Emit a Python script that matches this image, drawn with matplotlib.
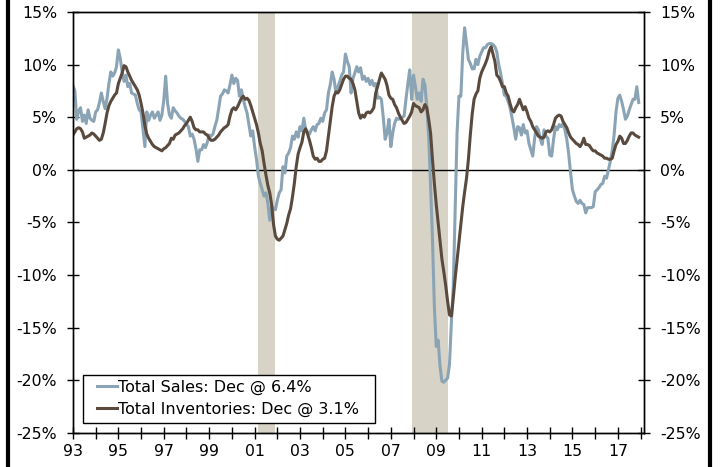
import numpy as np
import pandas as pd
import matplotlib
matplotlib.use("Agg")
import matplotlib.pyplot as plt
from matplotlib.ticker import MultipleLocator, FuncFormatter
from matplotlib.lines import Line2D
from matplotlib.patches import Rectangle

# Year-over-year % change, monthly Jan 1993 - Dec 2017 (one row per year)
total_sales = [
    8.0, 7.5, 4.8, 5.6, 5.9, 4.6, 5.2, 4.4, 5.7, 4.9, 4.7, 4.6,
    5.5, 5.7, 6.4, 7.3, 6.5, 5.8, 6.8, 8.2, 9.3, 8.9, 9.2, 9.8,
    11.4, 10.6, 9.3, 8.4, 9.0, 7.9, 8.2, 7.3, 7.2, 7.1, 6.3, 5.7,
    5.5, 3.8, 2.2, 5.5, 4.7, 5.2, 5.5, 4.9, 5.2, 5.5, 4.7, 5.2,
    6.6, 8.9, 6.3, 5.2, 4.9, 5.9, 5.6, 5.4, 5.1, 4.9, 4.8, 4.6,
    4.3, 4.1, 3.2, 3.4, 2.9, 2.0, 0.8, 1.9, 1.9, 2.4, 2.1, 2.6,
    3.3, 3.2, 3.4, 4.1, 4.7, 5.8, 7.0, 7.2, 7.6, 7.5, 7.3, 8.1,
    9.0, 8.2, 8.7, 8.5, 7.0, 7.6, 6.7, 6.0, 5.4, 4.3, 3.2, 3.7,
    2.2, 1.0, -0.6, -1.3, -1.9, -2.5, -2.2, -3.2, -4.8, -3.5, -3.7, -3.8,
    -2.9, -2.2, -1.9, 0.3, -0.3, 1.3, 1.6, 2.1, 3.2, 2.9, 3.6, 3.1,
    4.1, 3.7, 4.9, 3.8, 3.6, 3.4, 3.8, 4.1, 3.7, 4.3, 4.4, 4.9,
    4.6, 5.4, 5.7, 7.3, 8.1, 9.3, 8.6, 7.3, 7.9, 8.4, 9.0, 9.3,
    11.0, 10.3, 9.8, 7.3, 8.7, 9.2, 9.8, 9.3, 9.7, 8.6, 8.9, 8.4,
    8.7, 8.1, 8.5, 8.0, 8.2, 6.8, 6.9, 6.7, 5.0, 2.9, 3.5, 4.8,
    2.2, 3.5, 4.4, 4.9, 4.8, 4.9, 5.0, 5.1, 6.7, 8.2, 9.5, 6.7,
    9.0, 7.9, 6.7, 7.3, 6.5, 8.6, 8.1, 6.0, 3.2, -1.5, -6.5, -13.0,
    -16.8, -16.2, -18.7, -20.1, -20.2, -20.0, -19.8, -18.5, -14.5, -11.1, -4.0, 3.5,
    7.0, 7.0, 11.1, 13.5, 12.0, 10.5, 10.1, 9.6, 9.6, 10.5, 10.0, 10.8,
    11.2, 11.6, 11.6, 11.9, 12.0, 12.0, 11.9, 11.7, 11.2, 10.0, 9.2, 8.2,
    7.1, 7.0, 6.5, 5.9, 5.0, 4.0, 2.9, 4.1, 4.0, 3.3, 4.3, 3.5,
    3.7, 2.5, 1.9, 1.3, 3.0, 4.1, 3.8, 2.9, 2.4, 3.8, 3.2, 3.0,
    1.4, 1.3, 2.9, 4.1, 3.8, 4.3, 4.1, 4.4, 3.8, 2.9, 1.5, -0.3,
    -1.9, -2.5, -3.0, -3.2, -2.9, -3.2, -3.3, -4.1, -3.6, -3.6, -3.6, -3.5,
    -2.1, -1.9, -1.7, -1.4, -1.3, -0.6, -0.8, 0.0, 0.8, 1.8, 3.3, 5.5,
    6.8, 7.1, 6.5, 5.7, 4.8, 5.1, 5.7, 6.2, 6.7, 6.7, 7.9, 6.4,
]

total_inventories = [
    3.3, 3.6, 3.9, 4.0, 3.9, 3.6, 3.0, 3.1, 3.2, 3.3, 3.5, 3.4,
    3.2, 3.0, 2.8, 2.9, 3.5, 4.4, 5.4, 6.1, 6.5, 6.8, 7.1, 7.3,
    8.2, 8.7, 9.2, 9.9, 9.8, 9.3, 8.9, 8.5, 8.2, 7.9, 7.6, 7.1,
    6.3, 5.4, 4.2, 3.4, 3.0, 2.7, 2.4, 2.2, 2.1, 2.0, 1.9, 1.8,
    2.0, 2.1, 2.3, 2.5, 3.0, 2.9, 3.3, 3.4, 3.5, 3.7, 3.9, 4.2,
    4.4, 4.7, 5.0, 4.6, 4.0, 3.8, 3.8, 3.6, 3.6, 3.6, 3.4, 3.3,
    3.0, 2.8, 2.8, 2.9, 3.1, 3.3, 3.6, 3.8, 4.0, 4.1, 4.3, 5.1,
    5.7, 5.9, 5.7, 6.0, 6.4, 6.8, 7.0, 6.7, 6.8, 6.6, 6.1, 5.5,
    4.9, 4.3, 3.5, 2.5, 1.8, 0.6, -0.5, -1.5, -2.2, -3.3, -5.2, -6.3,
    -6.6, -6.7, -6.5, -6.3, -5.7, -5.1, -4.3, -3.7, -2.6, -1.3, 0.3, 1.5,
    2.1, 2.6, 3.6, 3.9, 3.4, 2.8, 2.1, 1.3, 1.0, 1.1, 0.8, 0.8,
    1.0, 1.1, 1.8, 3.2, 4.6, 6.0, 7.0, 7.4, 7.3, 7.6, 8.1, 8.6,
    8.9, 8.9, 8.7, 8.6, 8.2, 7.6, 6.5, 5.4, 4.9, 5.2, 5.0, 5.4,
    5.5, 5.4, 5.6, 5.9, 7.3, 7.9, 8.6, 9.2, 8.9, 8.6, 8.0, 7.1,
    6.8, 6.7, 6.2, 5.9, 5.4, 5.0, 4.7, 4.4, 4.5, 4.8, 5.1, 5.5,
    6.3, 6.1, 6.0, 5.9, 5.5, 5.7, 6.2, 5.9, 4.8, 3.5, 1.0, -1.3,
    -3.3, -5.0, -6.7, -8.5, -9.7, -11.0, -12.5, -13.8, -13.9, -12.2, -10.3, -8.6,
    -6.8, -5.2, -3.5, -2.1, -0.8, 1.0, 3.3, 5.3, 6.7, 7.2, 7.5, 8.7,
    9.3, 9.7, 10.1, 10.6, 11.3, 11.7, 11.0, 10.3, 9.0, 8.8, 8.4, 7.9,
    7.9, 7.3, 7.0, 6.3, 5.7, 5.5, 5.9, 6.2, 6.7, 6.2, 5.7, 6.0,
    5.5, 4.9, 4.6, 4.1, 3.8, 3.5, 3.2, 3.1, 3.0, 3.1, 3.6, 3.7,
    3.6, 3.8, 4.3, 4.9, 5.1, 5.2, 5.1, 4.6, 4.3, 4.0, 3.5, 3.1,
    2.9, 2.7, 2.5, 2.4, 2.2, 2.5, 3.0, 2.4, 2.4, 2.3, 2.0, 1.8,
    1.8, 1.6, 1.5, 1.4, 1.3, 1.1, 1.1, 1.0, 1.0, 1.1, 1.8, 2.4,
    2.7, 3.2, 3.0, 2.5, 2.5, 2.8, 3.2, 3.5, 3.5, 3.3, 3.2, 3.1,
]

# recession periods (decimal years)
recessions = [(2001.17, 2001.92), (2007.92, 2009.5)]

sales_label = "Total Sales: Dec @ 6.4%"
inventories_label = "Total Inventories: Dec @ 3.1%"

year_ticks = list(range(1993, 2018, 2))
year_labels = [f"{y % 100:02d}" for y in year_ticks]
pct_ticks = list(range(-25, 16, 5))

SALES_COLOR = "#8aa4b6"
INV_COLOR = "#5a4a3e"
SHADE_COLOR = "#d7d3c6"

plt.rcParams["font.family"] = "DejaVu Sans"
plt.rcParams["font.size"] = 11.3


def pct(v, pos):
    return f"{v:.0f}%"


months = pd.date_range("1993-01-01", periods=len(total_sales), freq="MS")
x = months.year + (months.month - 1) / 12.0

fig = plt.figure(figsize=(7.21, 4.67), dpi=100)
ax = fig.add_axes([0.1012, 0.0734, 0.7920, 0.9009])

# recession shading
for start, end in recessions:
    ax.axvspan(start, end, color=SHADE_COLOR, lw=0, zorder=0)

ax.axhline(0, color="black", lw=1, zorder=1)

ax.plot(x, total_sales, color=SALES_COLOR, lw=2.2, label=sales_label, zorder=2)
ax.plot(x, total_inventories, color=INV_COLOR, lw=2.2, label=inventories_label, zorder=3)

ax.set_xlim(1993, 2018.15)
ax.set_ylim(-25, 15)

# x axis: labels every other year, tick every year
ax.set_xticks(year_ticks)
ax.set_xticklabels(year_labels)
ax.xaxis.set_minor_locator(MultipleLocator(1))
ax.tick_params(axis="x", which="both", direction="inout", length=8, width=1, pad=4)

ax.set_yticks(pct_ticks)
ax.yaxis.set_major_formatter(FuncFormatter(pct))
ax.tick_params(axis="y", direction="inout", length=9, width=1, pad=7)

# mirrored axis on the right
ax2 = ax.twinx()
ax2.set_ylim(-25, 15)
ax2.set_yticks(pct_ticks)
ax2.yaxis.set_major_formatter(FuncFormatter(pct))
ax2.tick_params(axis="y", direction="inout", length=9, width=1, pad=7)

for a in (ax, ax2):
    for s in a.spines.values():
        s.set_linewidth(1)
        s.set_color("black")

# legend text without frame, box drawn separately (wider side padding)
leg = ax.legend(loc="upper left", bbox_to_anchor=(0.042, 0.126), borderaxespad=0,
                borderpad=0, frameon=False, handlelength=1.25, handletextpad=0.05,
                labelspacing=0.42, fontsize=11.5)
ax.add_patch(Rectangle((0.0175, 0.023), 0.5115, 0.114, transform=ax.transAxes,
                       facecolor="white", edgecolor="black", lw=1, zorder=4))
leg.set_zorder(5)

# black frame bars at the image sides
fig.add_artist(Line2D([0.0111, 0.0111], [0, 1], transform=fig.transFigure, color="black", lw=3))
fig.add_artist(Line2D([0.9854, 0.9854], [0, 1], transform=fig.transFigure, color="black", lw=3))

fig.savefig("out.png", dpi=100)
